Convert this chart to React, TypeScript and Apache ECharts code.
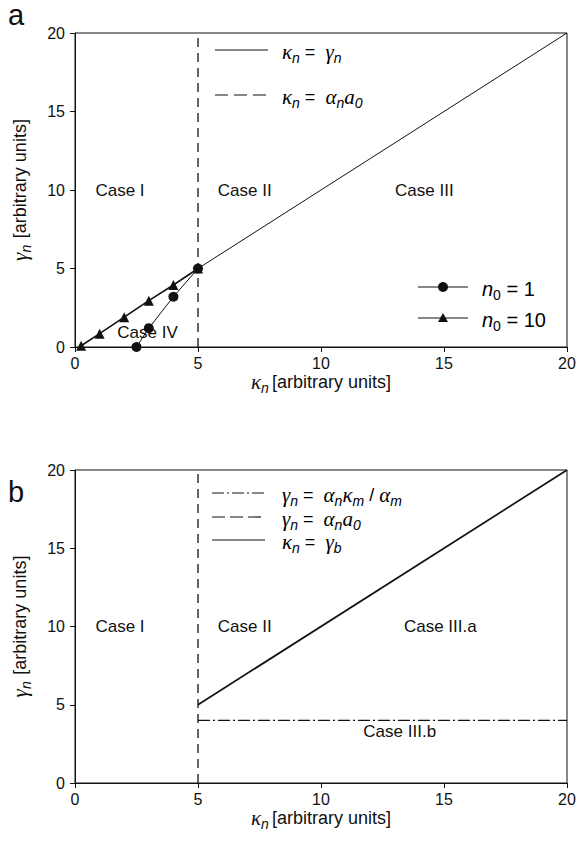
import React, { useEffect, useRef } from "react";
import * as echarts from "echarts";

// ---- data ----
const axisMin = 0;
const axisMax = 20;
const axisStep = 5;

// Panel a
const boundaryA: number[][] = [[5, 0], [5, 20]];
const kappaEqGammaA: number[][] = [[5, 5], [20, 20]];
const n0One: number[][] = [[2.5, 0], [3, 1.2], [4, 3.2], [5, 5]];
const n0Ten: number[][] = [[0.25, 0.08], [1, 0.85], [2, 1.9], [3, 2.95], [4, 3.95], [5, 5]];
const caseNamesA = ["Case I", "Case II", "Case III", "Case IV"];
const casePosA: number[][] = [[1.83, 10], [6.9, 10], [14.2, 10], [2.95, 0.9]];

// Panel b
const boundaryB: number[][] = [[5, 0], [5, 20]];
const kappaEqGammaB: number[][] = [[5, 5], [20, 20]];
const gammaLimitB: number[][] = [[5, 4], [20, 4]];
const caseNamesB = ["Case I", "Case II", "Case III.a", "Case III.b"];
const casePosB: number[][] = [[1.83, 10], [6.9, 10], [14.85, 10], [13.2, 3.3]];

const INK = "#111111";
const SANS = "'Liberation Sans', Arial, sans-serif";
const SERIF = "'Liberation Serif', 'DejaVu Serif', serif";

const richMath: any = {
  g: { fontFamily: SERIF, fontStyle: "italic", fontSize: 21, color: INK, lineHeight: 26, verticalAlign: "middle" },
  s: { fontFamily: SANS, fontStyle: "italic", fontSize: 14, color: INK, lineHeight: 15, verticalAlign: "bottom" },
  su: { fontFamily: SANS, fontSize: 14, color: INK, lineHeight: 15, verticalAlign: "bottom" },
  t: { fontFamily: SANS, fontSize: 18, color: INK, lineHeight: 26, verticalAlign: "middle" },
  i: { fontFamily: SANS, fontStyle: "italic", fontSize: 20, color: INK, lineHeight: 26, verticalAlign: "middle" },
  tb: { fontFamily: SANS, fontSize: 20, color: INK, lineHeight: 26, verticalAlign: "middle" },
};

function axisPair(gridIndex: number, xNameGap: number) {
  const common = {
    type: "value",
    gridIndex,
    min: axisMin,
    max: axisMax,
    interval: axisStep,
    splitLine: { show: false },
    axisLine: { show: true, lineStyle: { color: INK, width: 1 } },
    axisTick: { show: true, inside: false, length: 5, lineStyle: { color: INK } },
    axisLabel: { color: INK, fontSize: 16, fontFamily: SANS },
  };
  return {
    x: {
      ...common,
      axisLabel: { ...common.axisLabel, margin: 8 },
      name: "{g|κ}{s|n} {t|[arbitrary units]}",
      nameLocation: "middle",
      nameGap: xNameGap,
      nameTextStyle: { rich: richMath, verticalAlign: "top" },
    },
    y: {
      ...common,
      axisLabel: { ...common.axisLabel, margin: 10 },
      name: "{g|γ}{s|n}  {t|[arbitrary units]}",
      nameLocation: "middle",
      nameRotate: 90,
      nameGap: 42,
      nameTextStyle: { rich: richMath },
    },
  };
}

function lineSeries(data: number[][], idx: number, type: any, width = 1) {
  return {
    type: "line",
    xAxisIndex: idx,
    yAxisIndex: idx,
    data,
    showSymbol: false,
    symbol: "none",
    lineStyle: { color: INK, width, type },
    silent: true,
    z: 2,
  };
}

function labelSeries(names: string[], pos: number[][], idx: number) {
  return {
    type: "scatter",
    xAxisIndex: idx,
    yAxisIndex: idx,
    symbolSize: 0,
    silent: true,
    z: 5,
    itemStyle: { color: INK, opacity: 1 },
    data: names.map((n, i) => ({ name: n, value: pos[i] })),
    label: {
      show: true,
      position: "inside",
      formatter: (p: any) => p.name,
      color: INK,
      fontSize: 17,
      fontFamily: SANS,
      textBorderWidth: 0,
      opacity: 1,
    },
  };
}

function legendLine(x1: number, x2: number, y: number, dash: any, width = 1) {
  return {
    type: "line",
    shape: { x1, y1: y, x2, y2: y },
    style: { stroke: INK, lineWidth: width, lineDash: dash },
  };
}

function legendText(x: number, y: number, text: string) {
  return {
    type: "text",
    x,
    y,
    style: { text, rich: richMath, verticalAlign: "middle", align: "left" },
  };
}

export default function App() {
  const ref = useRef<HTMLDivElement>(null);
  useEffect(() => {
    if (!ref.current) return;
    const chart = echarts.init(ref.current, undefined, { renderer: "svg" });
    const a = axisPair(0, 11);
    const b = axisPair(1, 16);
    const option: any = {
      animation: false,
      backgroundColor: "#ffffff",
      grid: [
        { left: 75, top: 33, width: 492, height: 314, show: true, borderColor: INK, borderWidth: 1, backgroundColor: "transparent" },
        { left: 75, top: 470, width: 492, height: 313, show: true, borderColor: INK, borderWidth: 1, backgroundColor: "transparent" },
      ],
      xAxis: [a.x, b.x],
      yAxis: [a.y, b.y],
      series: [
        lineSeries(boundaryA, 0, [9, 6], 1.3),
        lineSeries(kappaEqGammaA, 0, "solid"),
        {
          type: "line",
          xAxisIndex: 0,
          yAxisIndex: 0,
          data: n0One,
          symbol: "circle",
          symbolSize: 10,
          itemStyle: { color: INK },
          lineStyle: { color: INK, width: 1 },
          z: 3,
        },
        {
          type: "line",
          xAxisIndex: 0,
          yAxisIndex: 0,
          data: n0Ten,
          symbol: "triangle",
          symbolSize: 10,
          itemStyle: { color: INK },
          lineStyle: { color: INK, width: 1.6 },
          z: 3,
        },
        labelSeries(caseNamesA, casePosA, 0),
        lineSeries(boundaryB, 1, [9, 6], 1.3),
        lineSeries(kappaEqGammaB, 1, "solid", 1.7),
        lineSeries(gammaLimitB, 1, [12, 3, 2, 3], 1.1),
        labelSeries(caseNamesB, casePosB, 1),
      ],
      graphic: [
        { type: "text", left: 8, top: 0, style: { text: "a", fontSize: 29, fontFamily: SANS, fill: INK } },
        { type: "text", left: 8, top: 477, style: { text: "b", fontSize: 29, fontFamily: SANS, fill: INK } },
        // panel a legend (boundary lines)
        legendLine(215, 268, 50, null),
        legendText(282, 52, "{g|κ}{s|n}{t| =  }{g|γ}{s|n}"),
        legendLine(215, 268, 95, [13, 6], 1.2),
        legendText(282, 97, "{g|κ}{s|n}{t| =  }{g|α}{s|n}{g|a}{s|0}"),
        // panel a legend (n0)
        legendLine(418, 468, 287, null),
        { type: "circle", shape: { cx: 443, cy: 287, r: 5 }, style: { fill: INK } },
        legendText(482, 289, "{i|n}{su|0}{tb| = 1}"),
        legendLine(418, 468, 318, null),
        { type: "polygon", shape: { points: [[443, 313], [448, 322], [438, 322]] }, style: { fill: INK } },
        legendText(482, 320, "{i|n}{su|0}{tb| = 10}"),
        // panel b legend
        legendLine(212, 265, 493, [12, 3, 2, 3], 1.1),
        legendText(282, 495, "{g|γ}{s|n}{t| =  }{g|α}{s|n}{g|κ}{s|m}{t| / }{g|α}{s|m}"),
        legendLine(212, 265, 517, [13, 5], 1.2),
        legendText(282, 519, "{g|γ}{s|n}{t| =  }{g|α}{s|n}{g|a}{s|0}"),
        legendLine(212, 265, 540, null),
        legendText(282, 542, "{g|κ}{s|n}{t| =  }{g|γ}{s|b}"),
      ],
    };
    chart.setOption(option);
    return () => chart.dispose();
  }, []);
  return (
    <div
      ref={ref}
      style={{ position: "fixed", left: 0, top: 0, width: 579, height: 845, background: "#fff" }}
    />
  );
}
